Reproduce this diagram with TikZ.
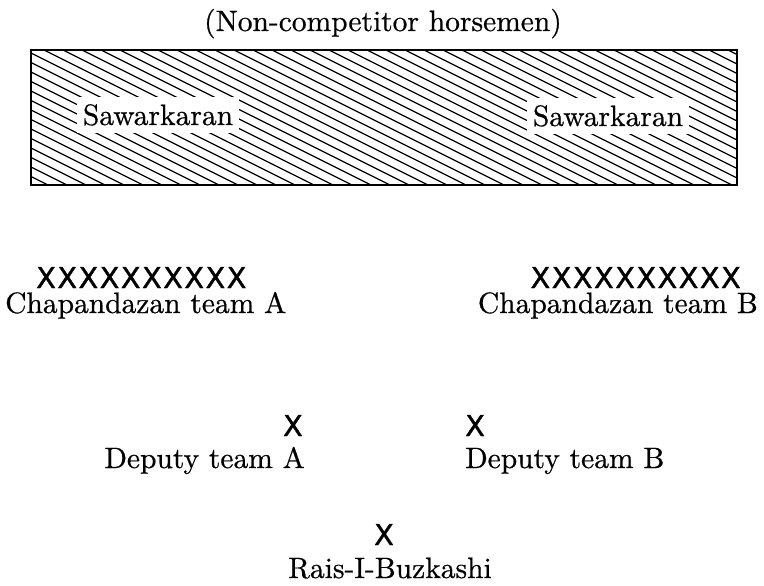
\documentclass[tikz,border=0pt]{standalone}
\usepackage{fontspec}
\newfontfamily\lblfont{lmroman10-regular.otf}[FakeBold=0.6]
\newfontfamily\xmarkfont{DejaVu Sans}[LetterSpace=5,FakeBold=1.2]
\begin{document}
\begin{tikzpicture}[x=1pt,y=-1pt,
  lbl/.style={inner sep=0pt,font=\lblfont\fontsize{29.5}{32}\selectfont},
  xmk/.style={inner sep=0pt,font=\xmarkfont\fontsize{28.8}{32}\selectfont},
  knock/.style={lbl,fill=white,inner xsep=6pt,inner ysep=7pt},
  hatch/.style={line width=1.25pt},
  frame/.style={line width=2.3pt}]
\useasboundingbox (0,0) rectangle (764,586);
% title
\node[lbl,anchor=base] (title) at (383,31) {(Non-competitor horsemen)};
% hatched field
\coordinate (bl) at (31,185);
\coordinate (tr) at (737,50);
\begin{scope}
  \clip (bl) rectangle (tr);
  \foreach \c in {-260,-241,...,740} \draw[hatch] (\c,50) -- ++(300,150);
\end{scope}
\draw[frame] (bl) rectangle (tr);
\node[knock,anchor=base] (sawL) at (158,125) {Sawarkaran};
\node[knock,anchor=base] (sawR) at (608,126) {Sawarkaran};
% team A
\node[xmk,anchor=base west] (xA) at (36,288) {XXXXXXXXXX};
\node[lbl,anchor=base west] (chapA) at (5,313) {Chapandazan team A};
% team B
\node[xmk,anchor=base east] (xB) at (741,288) {XXXXXXXXXX};
\node[lbl,anchor=base east] (chapB) at (758,313) {Chapandazan team B};
% deputies
\node[xmk,anchor=base east] (xdA) at (303,436) {X};
\node[lbl,anchor=base east] (depA) at (305,468) {Deputy team A};
\node[xmk,anchor=base west] (xdB) at (465,436) {X};
\node[lbl,anchor=base west] (depB) at (465,468) {Deputy team B};
% rais
\node[xmk,anchor=base] (xR) at (384,545) {X};
\node[lbl,anchor=base] (rais) at (390,578) {Rais-I-Buzkashi};
\end{tikzpicture}
\end{document}
